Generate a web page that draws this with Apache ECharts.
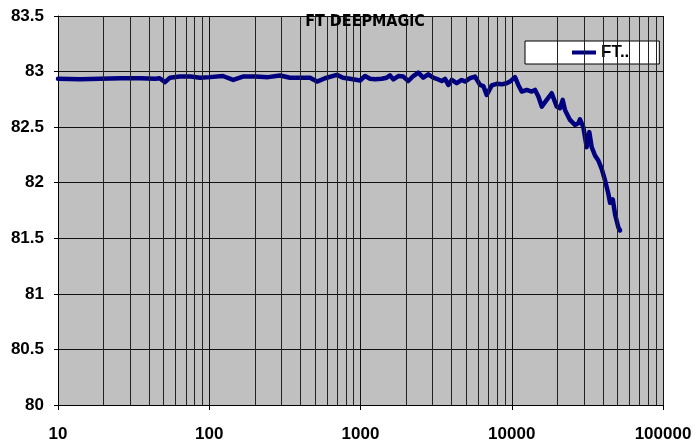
<!DOCTYPE html>
<html>
<head>
<meta charset="utf-8">
<script src="https://cdn.jsdelivr.net/npm/echarts@6/dist/echarts.min.js"></script>
<style>
  html, body { margin: 0; padding: 0; background: #fff; }
  #chart { width: 695px; height: 446px; }
</style>
</head>
<body>
<div id="chart"></div>
<script>
// frequency (x, log) and FT level (y)
var freqs = [10, 14, 19, 26, 35, 44, 47, 51, 55, 64,
    75, 87, 101, 123, 144, 167, 201, 245, 294, 342,
    398, 464, 516, 582, 699, 766, 852, 993, 1072, 1157,
    1248, 1381, 1490, 1567, 1649, 1779, 1919, 2070, 2234, 2410,
    2600, 2805, 3027, 3189, 3441, 3621, 3807, 4009, 4326, 4667,
    4911, 5297, 5715, 6166, 6487, 6830, 7368, 7950, 8584, 9253,
    9730, 10510, 11050, 11640, 12560, 13550, 14260, 15000, 15790, 17030,
    18370, 19820, 20840, 21720, 22490, 24270, 26180, 27540, 28260, 29730,
    31290, 32570, 33770, 35520, 37360, 39330, 41390, 43540, 44680, 46550,
    48220, 50730, 52000];
var ftValues = [82.935, 82.93, 82.935, 82.94, 82.94, 82.935, 82.94, 82.905, 82.945, 82.955,
    82.955, 82.945, 82.95, 82.96, 82.925, 82.955, 82.955, 82.95, 82.965, 82.945,
    82.945, 82.945, 82.91, 82.94, 82.97, 82.945, 82.935, 82.92, 82.96, 82.935,
    82.93, 82.935, 82.945, 82.965, 82.93, 82.96, 82.955, 82.915, 82.96, 82.99,
    82.945, 82.975, 82.945, 82.935, 82.915, 82.935, 82.88, 82.925, 82.895, 82.925,
    82.91, 82.94, 82.955, 82.88, 82.87, 82.79, 82.875, 82.89, 82.885, 82.895,
    82.91, 82.95, 82.88, 82.82, 82.835, 82.82, 82.835, 82.775, 82.685, 82.745,
    82.805, 82.685, 82.67, 82.745, 82.655, 82.565, 82.52, 82.535, 82.57, 82.5,
    82.32, 82.455, 82.32, 82.245, 82.2, 82.125, 82.02, 81.9, 81.82, 81.85,
    81.715, 81.595, 81.57];
// minor log grid lines (2..9 of each decade)
var minorGrid = [20, 30, 40, 50, 60, 70, 80, 90,
    200, 300, 400, 500, 600, 700, 800, 900,
    2000, 3000, 4000, 5000, 6000, 7000, 8000, 9000,
    20000, 30000, 40000, 50000, 60000, 70000, 80000, 90000];

var labelFont = "'Liberation Sans', Arial, sans-serif";
var titleFont = "'DejaVu Sans Condensed', 'Liberation Sans', sans-serif";

var seriesData = freqs.map(function (f, i) { return [f, ftValues[i]]; });

var option = {
    backgroundColor: '#ffffff',
    animation: false,
    title: {
        text: 'FT DEEPMAGiC',
        left: 360,
        top: 9,
        textAlign: 'center',
        textStyle: {
            fontFamily: titleFont,
            fontWeight: 'bold',
            fontSize: 16,
            color: '#000'
        }
    },
    legend: {
        data: ['FT..'],
        left: 525,
        top: 41,
        padding: [3, 30, 3, 47],
        backgroundColor: '#ffffff',
        borderColor: '#000',
        borderWidth: 1,
        borderRadius: 0,
        icon: 'rect',
        itemWidth: 24,
        itemHeight: 4,
        textStyle: {
            fontFamily: labelFont,
            fontWeight: 'bold',
            fontSize: 17,
            color: '#000'
        }
    },
    grid: {
        left: 58,
        right: 32,
        top: 16,
        bottom: 41,
        show: true,
        backgroundColor: '#c0c0c0',
        borderWidth: 0
    },
    xAxis: {
        type: 'log',
        logBase: 10,
        min: 10,
        max: 100000,
        axisLine: { show: true, onZero: false, lineStyle: { color: '#000', width: 1 } },
        axisTick: { show: true, length: 5, lineStyle: { color: '#000' } },
        axisLabel: {
            margin: 21,
            fontFamily: labelFont,
            fontWeight: 'bold',
            fontSize: 17,
            color: '#000',
            showMinLabel: true,
            showMaxLabel: true,
            formatter: function (v) { return String(Math.round(v)); }
        },
        splitLine: { show: true, lineStyle: { color: '#111', width: 1 } }
    },
    yAxis: {
        type: 'value',
        min: 80,
        max: 83.5,
        interval: 0.5,
        axisLine: { show: true, lineStyle: { color: '#000', width: 1 } },
        axisTick: { show: true, length: 4, lineStyle: { color: '#000' } },
        axisLabel: {
            margin: 14,
            fontFamily: labelFont,
            fontWeight: 'bold',
            fontSize: 17,
            color: '#000'
        },
        splitLine: { show: true, lineStyle: { color: '#111', width: 1 } }
    },
    series: [
        {
            name: 'grid',
            type: 'line',
            data: [],
            z: 1,
            silent: true,
            markLine: {
                silent: true,
                symbol: ['none', 'none'],
                label: { show: false },
                lineStyle: { color: '#222', width: 1, type: 'solid' },
                data: minorGrid.map(function (v) { return { xAxis: v }; })
            }
        },
        {
            name: 'FT..',
            type: 'line',
            z: 3,
            symbol: 'none',
            smooth: false,
            data: seriesData,
            lineStyle: { color: '#000080', width: 4.5, join: 'round', cap: 'round' },
            itemStyle: { color: '#000080' }
        }
    ]
};

var chart = echarts.init(document.getElementById('chart'));
chart.setOption(option, true);
</script>
</body>
</html>
